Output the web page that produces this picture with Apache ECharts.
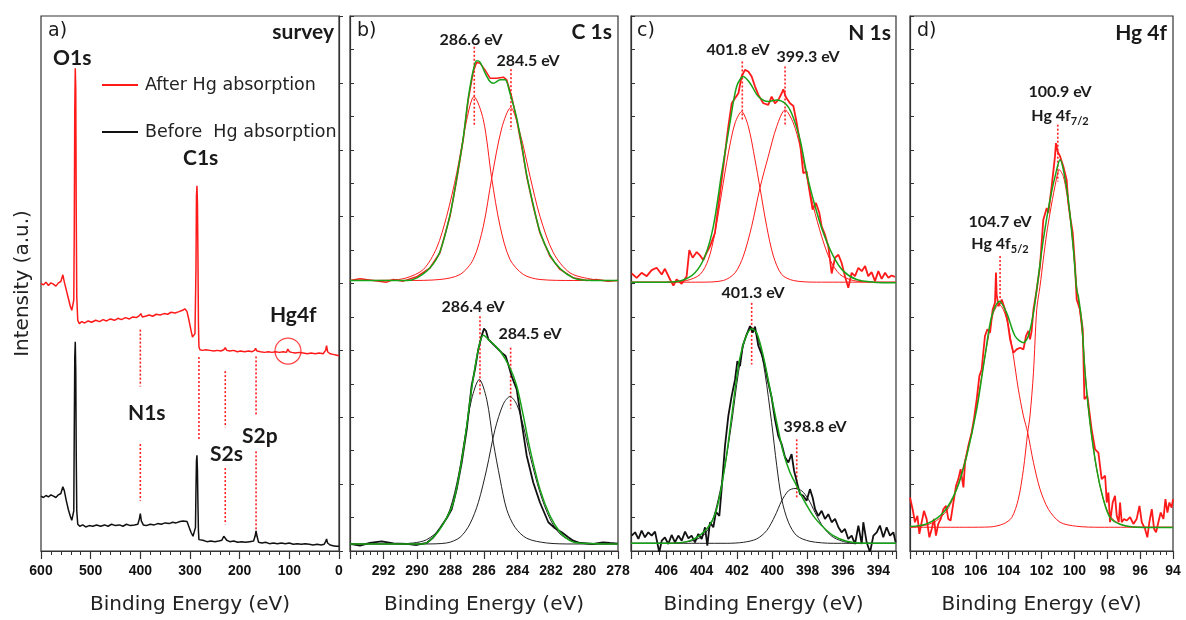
<!DOCTYPE html>
<html><head><meta charset="utf-8">
<script src="https://cdn.jsdelivr.net/npm/echarts@6/dist/echarts.min.js"></script>
<style>html,body{margin:0;padding:0;background:#fff}#c{width:1186px;height:620px}</style>
</head><body><div id="c"></div>
<script>
// ---------- panel a: survey ----------
const surveyAfter = [[600,4.00],[595,3.98],[590,4.02],[585,3.97],[580,4.01],[575,3.99],[570,3.96],[565,4.01],[560,4.03],[556,4.13],[553,4.02],[549,3.90],[545,3.78],[541,3.66],[538,3.60],[536,3.58],[534,3.75],[533,4.8],[532,6.6],[531,7.22],[530,6.9],[529,5.0],[528,3.8],[526,3.45],[523,3.40],[518,3.43],[512,3.41],[505,3.44],[498,3.42],[490,3.45],[482,3.43],[475,3.46],[468,3.44],[460,3.47],[452,3.45],[445,3.48],[438,3.46],[430,3.49],[422,3.47],[415,3.50],[408,3.49],[402,3.52],[399,3.55],[396,3.50],[390,3.51],[382,3.53],[375,3.51],[368,3.54],[360,3.53],[352,3.55],[345,3.54],[338,3.57],[330,3.56],[322,3.58],[315,3.60],[310,3.62],[306,3.58],[302,3.45],[298,3.30],[295,3.20],[292,3.18],[290,3.25],[288,4.2],[287,5.3],[286,5.46],[285,5.2],[284,4.4],[283,3.4],[282,3.05],[280,3.01],[275,3.00],[268,3.01],[260,3.00],[252,2.99],[245,3.00],[238,2.99],[232,3.01],[229,3.04],[226,3.00],[220,2.99],[212,3.00],[205,2.98],[198,2.99],[190,2.98],[182,2.99],[175,2.98],[170,3.00],[168,3.03],[165,2.99],[158,2.98],[150,2.97],[142,2.98],[135,2.97],[128,2.98],[120,2.97],[112,2.98],[106,2.97],[103,3.02],[100,2.98],[95,2.97],[88,2.96],[80,2.97],[72,2.96],[64,2.95],[56,2.96],[48,2.95],[40,2.96],[32,2.95],[27,3.0],[25,3.07],[23,2.98],[18,2.95],[12,2.94],[6,2.93],[0,2.92]];
const surveyBefore = [[600,0.82],[595,0.80],[590,0.83],[585,0.81],[580,0.84],[575,0.82],[570,0.80],[565,0.84],[560,0.86],[556,0.96],[553,0.90],[549,0.75],[545,0.62],[541,0.52],[538,0.46],[536,0.45],[534,0.60],[533,1.8],[532,2.9],[531,3.13],[530,2.7],[529,1.4],[528,0.6],[526,0.40],[522,0.37],[516,0.39],[510,0.36],[503,0.38],[496,0.37],[488,0.39],[480,0.37],[472,0.39],[465,0.37],[458,0.40],[450,0.38],[442,0.39],[435,0.37],[428,0.40],[420,0.38],[412,0.39],[405,0.40],[402,0.48],[400,0.56],[398,0.45],[394,0.39],[388,0.38],[380,0.40],[372,0.39],[365,0.41],[358,0.40],[350,0.42],[342,0.41],[335,0.43],[328,0.42],[320,0.44],[314,0.45],[310,0.46],[306,0.44],[302,0.36],[298,0.28],[294,0.22],[291,0.21],[289,0.35],[288,0.9],[287,1.35],[286,1.43],[285,1.2],[284,0.7],[283,0.3],[282,0.17],[280,0.15],[274,0.16],[266,0.14],[258,0.15],[250,0.14],[242,0.15],[236,0.16],[232,0.22],[229,0.24],[226,0.16],[220,0.14],[212,0.15],[204,0.13],[196,0.14],[188,0.13],[180,0.14],[172,0.15],[169,0.22],[167,0.30],[165,0.22],[162,0.13],[155,0.12],[148,0.13],[140,0.11],[132,0.12],[124,0.11],[116,0.12],[108,0.11],[100,0.12],[92,0.10],[84,0.11],[76,0.10],[68,0.11],[60,0.10],[52,0.09],[44,0.10],[36,0.09],[30,0.10],[27,0.14],[25,0.18],[23,0.12],[18,0.09],[12,0.08],[6,0.07],[0,0.07]];
const surveyMarkers = [[400,3.31,2.46],[400,1.60,0.75],[282,2.90,1.67],[229,2.69,1.85],[229,1.24,0.40],[167,2.91,2.04],[167,1.49,0.22]];
const hgCircle = [[102.7,2.99]];

// ---------- panel b: C 1s ----------
const cTopData = [[294,8.09],[293.4,8.14],[292.61,8.09],[291.81,8.04],[291.41,8.12],[290.82,8.07],[290.02,8.2],[289.22,8.47],[288.63,8.92],[288.03,10.01],[287.63,11.1],[287.24,12.3],[286.94,13.49],[286.64,14.34],[286.44,14.61],[286.24,14.59],[285.94,14.39],[285.64,14.14],[285.24,14.14],[284.84,14.17],[284.64,14.09],[284.35,13.59],[284.05,12.9],[283.75,12.1],[283.45,11.2],[283.06,10.31],[282.66,9.51],[282.06,8.81],[281.46,8.42],[280.67,8.17],[279.87,8.09],[279.3,8.12],[278.6,8.07],[278,8.09]];
const cTopFit = [[294,8.09],[290.6,8.09],[290,8.17],[289.22,8.47],[288.63,8.95],[288.03,10.05],[287.63,11.15],[287.24,12.35],[286.94,13.55],[286.64,14.38],[286.44,14.66],[286.24,14.62],[285.94,14.3],[285.64,14.04],[285.44,13.99],[285.04,14.09],[284.74,14.09],[284.45,13.69],[284.05,12.95],[283.75,12.15],[283.45,11.25],[283.06,10.35],[282.66,9.55],[282.06,8.85],[281.46,8.45],[280.67,8.17],[279.87,8.1],[278,8.09]];
const cTopPeak1 = [[294,8.09],[291.61,8.1],[290.62,8.17],[289.62,8.42],[288.83,9.06],[288.23,10.01],[287.63,11.3],[287.03,12.9],[286.6,13.59],[286.04,12.9],[285.54,11.15],[285.04,9.71],[284.45,8.72],[283.65,8.27],[282.66,8.12],[280.67,8.09],[278,8.09]];
const cTopPeak2 = [[294,8.09],[290.62,8.09],[288.63,8.12],[287.43,8.27],[286.64,8.72],[286.04,9.71],[285.54,11.15],[284.94,12.65],[284.41,13.26],[283.85,12.5],[283.25,11.2],[282.66,10.01],[281.86,8.92],[280.87,8.32],[279.47,8.12],[278.48,8.09],[278,8.09]];
const cBotData = [[294,0.21],[293.4,0.16],[292.81,0.24],[292.11,0.29],[291.41,0.23],[290.62,0.21],[290.02,0.18],[289.42,0.24],[289.02,0.41],[288.63,0.68],[288.23,0.98],[287.93,1.25],[287.63,1.85],[287.33,2.65],[287.03,3.64],[286.74,4.94],[286.54,5.43],[286.34,6.03],[286.14,6.43],[286.0,6.65],[285.88,6.58],[285.74,6.33],[285.44,6.18],[285.14,6.03],[284.95,5.93],[284.85,5.98],[284.71,5.83],[284.55,5.58],[284.35,5.23],[284.05,4.84],[283.75,3.84],[283.45,2.85],[283.06,2.05],[282.66,1.45],[282.16,0.86],[281.76,0.68],[281.36,0.56],[280.97,0.41],[280.67,0.31],[280.27,0.24],[279.47,0.21],[278.9,0.26],[278.48,0.24],[278,0.22]];
const cBotFit = [[294,0.21],[289.62,0.21],[289.02,0.41],[288.43,0.81],[287.83,1.45],[287.23,3.04],[286.74,4.84],[286.34,6.03],[286.04,6.45],[285.64,6.28],[285.04,5.98],[284.45,5.48],[284.05,4.94],[283.65,4.04],[283.25,3.04],[282.66,1.85],[282.06,1.05],[281.46,0.56],[280.87,0.31],[280.27,0.23],[278,0.21]];
const cBotPeak1 = [[294,0.21],[291.61,0.21],[290.22,0.24],[289.42,0.34],[288.63,0.66],[288.03,1.25],[287.53,2.25],[287.13,3.44],[286.74,4.54],[286.28,5.13],[285.84,4.54],[285.44,3.24],[285.04,2.15],[284.65,1.25],[284.15,0.71],[283.45,0.38],[282.26,0.24],[280.67,0.21],[278,0.21]];
const cBotPeak2 = [[294,0.21],[289.62,0.21],[288.23,0.24],[287.43,0.41],[286.84,0.81],[286.34,1.45],[285.84,2.45],[285.34,3.64],[284.85,4.39],[284.45,4.62],[284.05,4.39],[283.65,3.74],[283.25,2.85],[282.66,1.75],[282.06,0.96],[281.46,0.51],[280.67,0.29],[279.47,0.21],[278,0.21]];
const cMarkers = [[286.58,15.08,12.70],[284.39,14.41,12.60],[286.24,7.02,4.66],[284.41,6.08,4.26]];

// ---------- panel c: N 1s ----------
const nTopData = [[407.96,8.30],[407.68,8.17],[407.40,8.32],[407.11,8.22],[406.83,8.40],[406.55,8.47],[406.26,8.27],[406.08,8.44],[405.79,8.12],[405.60,7.94],[405.42,8.12],[405.13,7.99],[404.85,8.22],[404.70,9.00],[404.51,8.77],[404.28,8.94],[404.09,8.84],[403.91,8.70],[403.72,8.92],[403.53,9.11],[403.25,9.51],[403.06,10.31],[402.77,11.50],[402.49,12.70],[402.30,13.39],[402.11,13.54],[401.92,13.69],[401.74,14.19],[401.55,14.39],[401.36,14.34],[401.17,14.19],[400.98,13.89],[400.79,13.64],[400.51,13.39],[400.23,13.34],[400.04,13.59],[399.85,13.39],[399.66,13.49],[399.47,13.69],[399.38,13.81],[399.23,13.57],[399.00,13.39],[398.81,13.31],[398.62,12.80],[398.43,12.20],[398.25,11.30],[398.06,11.35],[397.91,10.81],[397.72,10.21],[397.53,10.41],[397.34,10.11],[397.21,9.71],[397.02,9.46],[396.83,9.11],[396.64,8.30],[396.45,8.77],[396.26,8.86],[396.08,8.62],[395.89,8.22],[395.70,7.87],[395.51,8.32],[395.32,8.22],[395.13,8.47],[394.94,8.37],[394.75,8.52],[394.57,8.22],[394.38,8.34],[394.19,8.07],[394.00,8.37],[393.81,8.14],[393.62,8.32],[393.43,8.17],[393.25,8.24],[393.06,8.20]];
const nTopFit = [[408,8.04],[406.08,8.04],[405.13,8.09],[404.38,8.32],[403.81,8.82],[403.34,9.71],[402.87,11.30],[402.40,12.80],[402.02,13.89],[401.64,14.19],[401.26,13.99],[400.79,13.59],[400.23,13.44],[399.75,13.49],[399.28,13.39],[398.91,13.09],[398.43,12.30],[398.06,11.30],[397.58,10.31],[397.11,9.51],[396.55,8.82],[395.98,8.37],[395.23,8.12],[394.28,8.04],[393,8.02]];
const nTopPeak1 = [[408,8.04],[405.98,8.04],[404.85,8.09],[404.09,8.27],[403.62,8.72],[403.25,9.51],[402.87,10.71],[402.49,11.90],[402.11,12.80],[401.74,13.14],[401.36,12.70],[400.98,11.70],[400.70,10.86],[400.32,9.71],[399.94,8.82],[399.47,8.27],[398.81,8.09],[397.49,8.04],[393,8.04]];
const nTopPeak2 = [[408,8.04],[404.09,8.04],[402.77,8.09],[402.11,8.32],[401.64,8.82],[401.17,9.71],[400.70,10.86],[400.23,11.80],[399.75,12.70],[399.28,13.19],[398.81,12.80],[398.43,12.10],[398.06,11.20],[397.68,10.31],[397.21,9.41],[396.74,8.72],[396.17,8.27],[395.42,8.09],[394.28,8.04],[393,8.04]];
const nBotData = [[407.96,0.46],[407.77,0.56],[407.58,0.36],[407.40,0.61],[407.21,0.41],[407.02,0.56],[406.83,0.46],[406.64,0.58],[406.40,-0.04],[406.26,0.31],[406.08,0.41],[405.89,0.21],[405.70,0.48],[405.51,0.26],[405.32,0.46],[405.13,0.31],[404.94,0.58],[404.75,0.38],[404.57,0.46],[404.38,0.26],[404.19,0.51],[404.00,0.36],[403.81,0.71],[403.68,0.16],[403.53,0.86],[403.34,0.71],[403.19,1.17],[403.00,1.05],[402.87,1.85],[402.68,3.14],[402.49,4.04],[402.30,4.64],[402.11,5.13],[401.98,5.68],[401.83,5.53],[401.68,6.13],[401.45,6.48],[401.26,6.73],[401.11,6.53],[400.98,6.71],[400.79,6.13],[400.60,5.88],[400.42,5.53],[400.23,5.03],[400.04,4.59],[399.85,3.94],[399.66,3.44],[399.47,3.19],[399.28,2.80],[399.09,2.65],[398.91,2.90],[398.77,2.40],[398.58,2.00],[398.43,1.70],[398.25,1.65],[398.06,1.50],[397.87,1.85],[397.72,1.60],[397.58,1.25],[397.40,1.05],[397.21,1.20],[397.02,0.96],[396.83,1.10],[396.64,0.86],[396.45,0.96],[396.26,0.71],[396.08,0.56],[395.89,0.66],[395.70,0.36],[395.51,0.46],[395.32,0.21],[395.13,0.76],[394.94,0.21],[394.85,0.86],[394.66,0.26],[394.47,-0.04],[394.28,0.46],[394.09,0.56],[393.91,0.76],[393.72,0.41],[393.53,0.71],[393.34,0.46],[393.15,0.56],[393.02,0.26]];
const nBotFit = [[408,0.23],[405.98,0.23],[404.66,0.31],[403.72,0.66],[403.15,1.25],[402.68,2.55],[402.30,4.04],[401.92,5.53],[401.55,6.33],[401.17,6.65],[400.89,6.53],[400.51,5.83],[400.13,4.84],[399.75,3.84],[399.38,2.95],[399.00,2.35],[398.62,1.95],[398.25,1.55],[397.68,1.05],[397.11,0.71],[396.55,0.46],[395.79,0.29],[394.85,0.23],[393,0.23]];
const nBotPeak1 = [[408,0.23],[405.98,0.23],[404.66,0.29],[403.91,0.46],[403.43,0.86],[403.06,1.55],[402.68,2.55],[402.30,3.84],[401.92,5.33],[401.55,6.33],[401.17,6.68],[400.79,6.33],[400.42,5.33],[400.04,3.84],[399.75,2.55],[399.47,1.55],[399.09,0.86],[398.62,0.46],[397.87,0.29],[396.55,0.23],[393,0.23]];
const nBotPeak2 = [[408,0.23],[402.58,0.23],[401.64,0.26],[400.89,0.36],[400.32,0.61],[399.85,1.05],[399.47,1.50],[399.09,1.80],[398.72,1.87],[398.34,1.80],[397.96,1.55],[397.58,1.15],[397.11,0.71],[396.55,0.41],[395.79,0.26],[394.85,0.23],[393,0.23]];
const nMarkers = [[401.70,14.64,12.85],[399.28,14.49,12.70],[401.17,7.42,5.58],[398.62,3.34,1.55]];

// ---------- panel d: Hg 4f ----------
const hgData = [[110.00,1.60],[109.84,1.25],[109.70,0.86],[109.55,1.05],[109.43,0.51],[109.29,0.86],[109.15,1.20],[108.99,0.96],[108.82,0.41],[108.68,0.66],[108.54,0.96],[108.42,0.46],[108.28,0.81],[108.13,0.96],[107.97,1.25],[107.81,1.35],[107.67,0.96],[107.53,0.91],[107.36,1.45],[107.20,1.95],[107.06,2.15],[106.92,2.45],[106.75,1.90],[106.65,2.65],[106.45,3.14],[106.25,3.54],[106.11,3.94],[105.94,4.54],[105.78,5.23],[105.64,5.43],[105.44,6.43],[105.29,6.63],[105.13,6.53],[104.97,7.22],[104.83,7.42],[104.77,8.33],[104.73,7.67],[104.62,7.32],[104.42,7.52],[104.22,7.22],[104.08,6.93],[103.91,6.33],[103.71,5.93],[103.51,6.03],[103.31,6.08],[103.10,6.03],[102.94,6.43],[102.80,6.58],[102.70,6.33],[102.60,6.58],[102.49,7.22],[102.39,7.52],[102.29,7.82],[102.09,8.52],[101.89,9.91],[101.68,10.26],[101.58,10.11],[101.38,10.91],[101.18,11.80],[101.12,12.20],[101.02,11.95],[100.87,11.80],[100.77,11.85],[100.67,11.50],[100.47,11.10],[100.37,10.41],[100.26,10.01],[100.10,9.51],[99.96,8.52],[99.86,7.52],[99.66,7.22],[99.49,6.63],[99.39,4.54],[99.21,4.64],[99.09,4.64],[98.95,3.64],[98.74,3.04],[98.54,2.94],[98.34,2.15],[98.13,2.25],[98.03,1.45],[97.93,1.75],[97.83,0.86],[97.67,1.45],[97.53,1.65],[97.42,1.05],[97.30,0.86],[97.22,1.45],[97.12,0.86],[96.98,0.96],[96.82,0.91],[96.61,1.01],[96.41,0.81],[96.21,0.96],[96.04,1.35],[95.90,0.86],[95.70,0.66],[95.56,0.41],[95.44,0.86],[95.29,1.25],[95.15,0.66],[95.03,0.56],[94.89,0.86],[94.75,1.15],[94.58,0.96],[94.46,1.55],[94.34,1.15],[94.22,1.45],[94.08,1.30],[94.0,1.55]];
const hgFit = [[110.0,0.73],[108.99,0.81],[107.97,1.15],[107.16,1.85],[106.55,2.85],[105.94,4.24],[105.44,5.83],[105.03,7.02],[104.56,7.47],[104.12,7.12],[103.61,6.43],[103.10,6.23],[102.80,6.43],[102.49,7.12],[102.29,7.82],[101.89,9.31],[101.48,10.51],[101.08,11.40],[100.87,11.70],[100.67,11.40],[100.37,10.51],[100.06,9.01],[99.86,7.82],[99.76,7.62],[99.55,6.83],[99.35,5.33],[99.05,3.84],[98.64,2.44],[98.24,1.55],[97.83,1.00],[97.22,0.80],[96.41,0.72],[94.0,0.70]];
const hgPeak52 = [[110.0,0.71],[108.99,0.78],[108.38,0.91],[107.77,1.20],[107.36,1.60],[106.96,2.15],[106.45,3.14],[106.04,4.04],[105.64,5.23],[105.29,6.23],[104.93,7.12],[104.58,7.37],[104.32,7.22],[104.02,6.73],[103.71,5.83],[103.41,4.84],[103.10,4.04],[102.84,3.54],[102.49,2.65],[102.09,1.85],[101.58,1.25],[100.87,0.86],[99.86,0.74],[98.44,0.71],[94.0,0.71]];
const hgPeak72 = [[110.0,0.71],[106.55,0.71],[105.13,0.72],[104.32,0.81],[103.81,1.00],[103.41,1.55],[103.10,2.44],[102.84,3.54],[102.70,4.04],[102.49,5.33],[102.29,7.22],[102.09,7.92],[101.89,8.72],[101.68,9.51],[101.48,10.11],[101.18,10.91],[100.91,11.40],[100.67,11.20],[100.47,10.71],[100.26,10.01],[100.06,9.01],[99.86,7.92],[99.66,7.12],[99.49,6.33],[99.29,5.03],[99.05,3.84],[98.64,2.44],[98.24,1.55],[97.83,1.05],[97.22,0.80],[96.41,0.72],[94,0.71]];
const hgMarkers = [[101.01,12.75,11.05],[104.52,8.82,7.52]];

// ---------- axes ----------
const xRanges = [[0,600,100],[278,294,2],[393,408,null],[94,110,2]];
const gridLefts = [41,350,631,910];
const gridWidths = [298,268,265,263];
const yMax = [8,16,16,16];

const RED='#ff1a1a', BLACK='#111', GREEN='#17a317';
const FONT='DejaVu Sans', BFONT='Lato', TFONT='Liberation Sans';

function ln(name, data, i, color, width, smooth, z, type){
  return {type:'line', name, data, xAxisIndex:i, yAxisIndex:i, symbol:'none', smooth:smooth||false,
    lineStyle:{color, width, type:type||'solid'}, itemStyle:{color}, z:z||2, silent:true, animation:false, clip:true};
}
const series=[];
series.push(ln('After Hg absorption', surveyAfter, 0, RED, 1.5, false, 3));
series.push(ln('Before  Hg absorption', surveyBefore, 0, BLACK, 1.5, false, 3));
function markers(arr, i){ arr.forEach(m=>series.push(ln('', [[m[0],m[1]],[m[0],m[2]]], i, '#ff2020', 1.6, false, 1, [2,2]))); }
markers(surveyMarkers,0);
series.push({type:'scatter', data:hgCircle, xAxisIndex:0, yAxisIndex:0, symbol:'circle', symbolSize:26,
  itemStyle:{color:'rgba(0,0,0,0)', borderColor:RED, borderWidth:1.3}, silent:true, animation:false, z:4});
// b
series.push(ln('', cTopData, 1, RED, 1.5, false, 3));
series.push(ln('', cTopFit, 1, GREEN, 1.5, 0.3, 4));
series.push(ln('', cTopPeak1, 1, RED, 1, 0.3, 2));
series.push(ln('', cTopPeak2, 1, RED, 1, 0.3, 2));
series.push(ln('', cBotData, 1, BLACK, 1.8, false, 3));
series.push(ln('', cBotFit, 1, GREEN, 1.5, 0.3, 4));
series.push(ln('', cBotPeak1, 1, '#222', 1, 0.3, 2));
series.push(ln('', cBotPeak2, 1, '#222', 1, 0.3, 2));
markers(cMarkers,1);
// c
series.push(ln('', nTopData, 2, RED, 1.8, false, 3));
series.push(ln('', nTopFit, 2, GREEN, 1.5, 0.3, 4));
series.push(ln('', nTopPeak1, 2, RED, 1, 0.3, 2));
series.push(ln('', nTopPeak2, 2, RED, 1, 0.3, 2));
series.push(ln('', nBotData, 2, BLACK, 1.8, false, 3));
series.push(ln('', nBotFit, 2, GREEN, 1.5, 0.3, 4));
series.push(ln('', nBotPeak1, 2, '#222', 1, 0.3, 2));
series.push(ln('', nBotPeak2, 2, '#222', 1, 0.3, 2));
markers(nMarkers,2);
// d
series.push(ln('', hgData, 3, RED, 1.8, false, 3));
series.push(ln('', hgFit, 3, GREEN, 1.5, 0.3, 4));
series.push(ln('', hgPeak52, 3, RED, 1, 0.3, 2));
series.push(ln('', hgPeak72, 3, RED, 1, 0.3, 2));
markers(hgMarkers,3);

const grids=[], xAxes=[], yAxes=[];
for(let i=0;i<4;i++){
  grids.push({left:gridLefts[i], top:16, width:gridWidths[i], height:536, show:true, borderColor:'#333', borderWidth:1.2, backgroundColor:'#fff'});
  const r=xRanges[i];
  const xa={gridIndex:i, type:'value', inverse:true, min:r[0], max:r[1],
    axisLine:{show:true, onZero:false, lineStyle:{color:'#333', width:1.2}},
    axisTick:{show:true, length:8, lineStyle:{color:'#333', width:1.2}},
    minorTick:{show:true, splitNumber:5, length:4, lineStyle:{color:'#333', width:1}},
    splitLine:{show:false}, minorSplitLine:{show:false},
    axisLabel:{fontSize:14, fontWeight:'bold', fontFamily:TFONT, color:'#111', margin:13,
      showMinLabel: i!==2, showMaxLabel: i===0, hideOverlap:false},
    name:'Binding Energy (eV)', nameLocation:'middle', nameGap:44,
    nameTextStyle:{fontSize:20, fontFamily:FONT, color:'#222'}};
  if(r[2]) xa.interval=r[2]; else xa.splitNumber=7;
  xAxes.push(xa);
  const ya={gridIndex:i, type:'value', min:0, max:yMax[i], interval:1,
    axisLine:{show:true, lineStyle:{color:'#333', width:1.2}},
    axisTick:{show:true, inside:true, length:4, lineStyle:{color:'#333'}},
    axisLabel:{show:false}, splitLine:{show:false}};
  if(i===0){ ya.name='Intensity (a.u.)'; ya.nameLocation='middle'; ya.nameGap=8; ya.nameTextStyle={fontSize:20, fontFamily:FONT, color:'#222'}; }
  yAxes.push(ya);
}

function txt(x,y,text,opt){
  opt=opt||{};
  return {type:'text', x, y, silent:true, z:100, style:{text, fill:'#1a1a1a', align:opt.align||'left', verticalAlign:'middle',
    font:(opt.bold?'bold ':'')+(opt.size||21)+'px '+(opt.family||(opt.bold?BFONT:FONT)), rich:opt.rich}};
}
const graphics=[
  txt(48,31,'a)',{size:19}), txt(334,32,'survey',{bold:true,align:'right'}),
  txt(53,58,'O1s',{bold:true}), txt(183,158,'C1s',{bold:true}), txt(128,413,'N1s',{bold:true}),
  txt(210,454,'S2s',{bold:true}), txt(242,436,'S2p',{bold:true}), txt(270,315,'Hg4f',{bold:true}),
  txt(357,31,'b)',{size:19}), txt(612,32,'C 1s',{bold:true,align:'right'}),
  txt(471,40,'286.6 eV',{bold:true,size:16,align:'center'}), txt(528,61,'284.5 eV',{bold:true,size:16,align:'center'}),
  txt(473,307,'286.4 eV',{bold:true,size:16,align:'center'}), txt(530,334,'284.5 eV',{bold:true,size:16,align:'center'}),
  txt(637,31,'c)',{size:19}), txt(891,33,'N 1s',{bold:true,align:'right'}),
  txt(738,50,'401.8 eV',{bold:true,size:16,align:'center'}), txt(808,57,'399.3 eV',{bold:true,size:16,align:'center'}),
  txt(753,293,'401.3 eV',{bold:true,size:16,align:'center'}), txt(815,427,'398.8 eV',{bold:true,size:16,align:'center'}),
  txt(917,31,'d)',{size:19}), txt(1167,33,'Hg 4f',{bold:true,align:'right'}),
  txt(1060,92,'100.9 eV',{bold:true,size:16,align:'center'}),
  txt(1000,222,'104.7 eV',{bold:true,size:16,align:'center'}),
  {type:'text', x:1060, y:116, silent:true, z:100, style:{text:'{m|Hg 4f}{s|7/2}', align:'center', verticalAlign:'middle',
    rich:{m:{font:'bold 16px '+BFONT, fill:'#1a1a1a', lineHeight:22}, s:{font:'bold 11px '+BFONT, fill:'#1a1a1a', lineHeight:12, verticalAlign:'bottom'}}}},
  {type:'text', x:1000, y:244, silent:true, z:100, style:{text:'{m|Hg 4f}{s|5/2}', align:'center', verticalAlign:'middle',
    rich:{m:{font:'bold 16px '+BFONT, fill:'#1a1a1a', lineHeight:22}, s:{font:'bold 11px '+BFONT, fill:'#1a1a1a', lineHeight:12, verticalAlign:'bottom'}}}}
];

const chart=echarts.init(document.getElementById('c'),null,{renderer:'canvas'});
chart.setOption({
  animation:false, backgroundColor:'#fff',
  grid:grids, xAxis:xAxes, yAxis:yAxes, series,
  legend:{data:['After Hg absorption','Before  Hg absorption'], orient:'vertical', left:97, top:70,
    itemWidth:36, itemHeight:2, icon:'rect', itemGap:27, selectedMode:false,
    textStyle:{fontSize:17.5, fontFamily:FONT, color:'#222', lineHeight:20, padding:[0,0,0,2]}},
  graphic:graphics
});
</script></body></html>
